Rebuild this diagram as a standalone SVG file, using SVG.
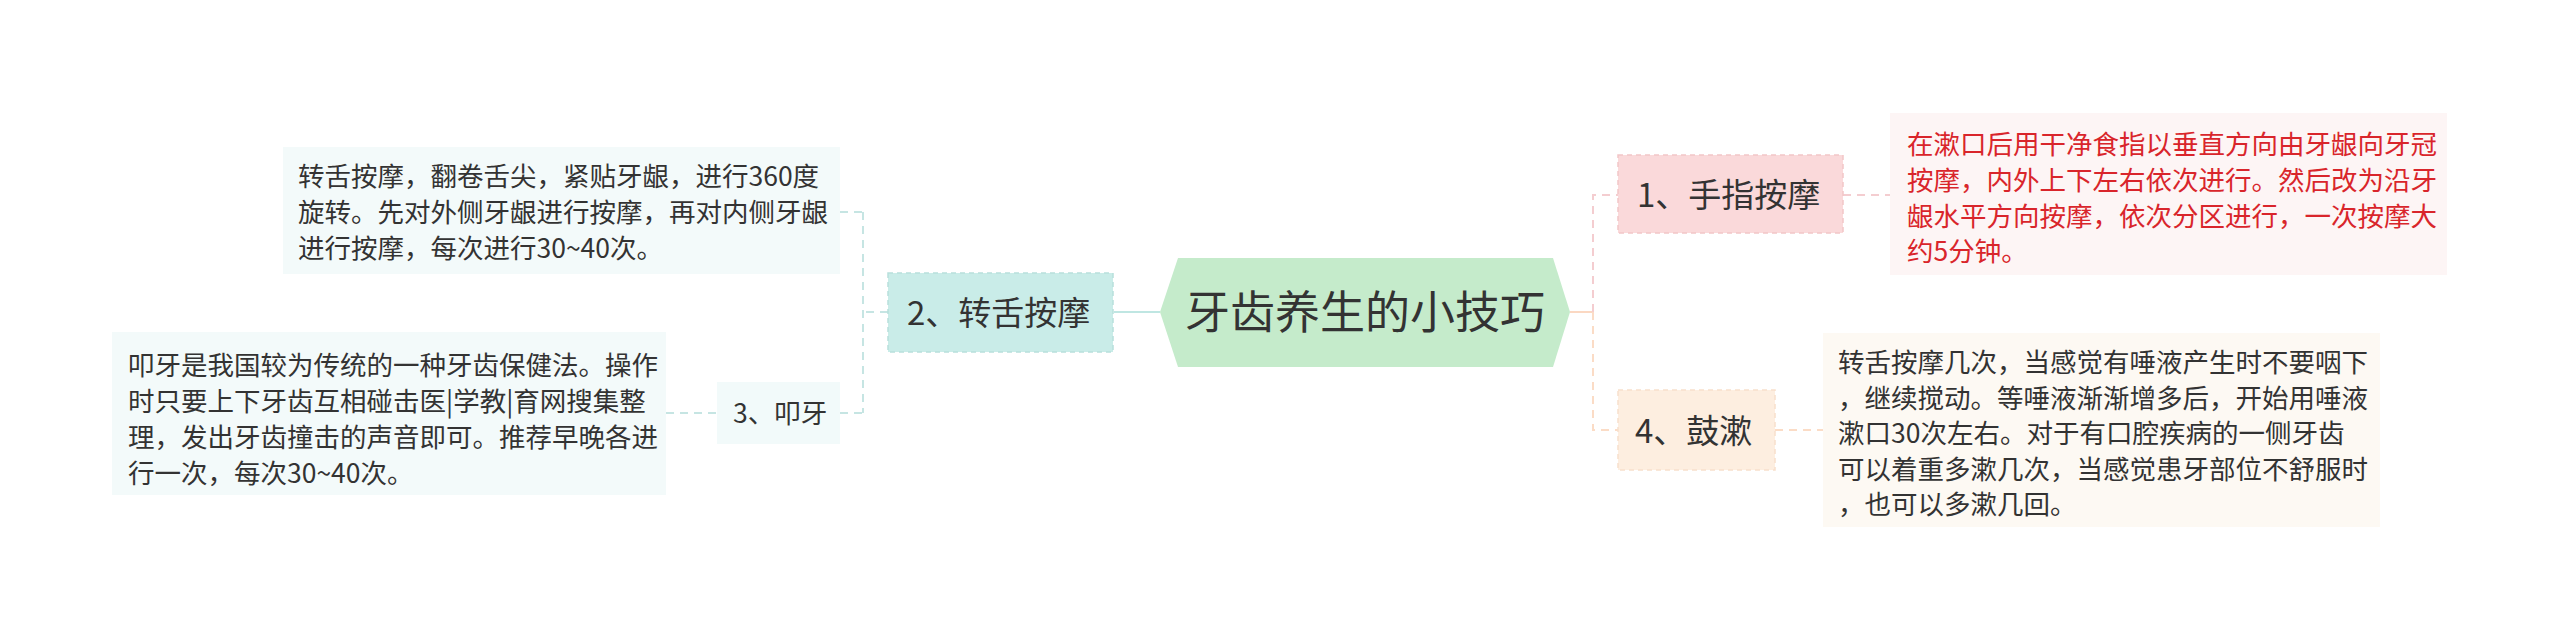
<svg xmlns="http://www.w3.org/2000/svg" width="2560" height="642" viewBox="0 0 2560 642">
<style>
text{font-family:"Noto Sans CJK SC","Liberation Sans",sans-serif;fill:#333}
.t{font-size:26.5px}
.n{font-size:33px}
.red{fill:#d9252b}
.dl{fill:none;stroke-width:2;stroke-dasharray:8,6}
.teal{stroke:#c6e5e3}
.pink{stroke:#f4cdd0}
.peach{stroke:#fbdcc6}
</style>
<rect width="2560" height="642" fill="#ffffff"/>
<g id="connectors">
  <line x1="1114" y1="312" x2="1160" y2="312" stroke="#bfe6e2" stroke-width="2"/>
  <path class="dl teal" d="M888 312 H863 M863 212 V413 M840 212 H863 M840 413 H863"/>
  <path class="dl teal" d="M666 413 H717"/>
  <line x1="1570" y1="312" x2="1593" y2="312" stroke="#fbd8c2" stroke-width="2"/>
  <path class="dl pink" d="M1593 312 V195 H1618"/>
  <path class="dl peach" d="M1593 312 V430 H1618"/>
  <path class="dl pink" d="M1843 195 H1890"/>
  <path class="dl peach" d="M1775 430 H1823"/>
</g>
<g id="root">
  <polygon points="1160,312 1178,258 1553,258 1570,312 1553,367 1178,367" fill="#c5ebcb"/>
  <text x="1365" y="329" font-size="45" text-anchor="middle">牙齿养生的小技巧</text>
</g>
<g id="node2">
  <rect x="888" y="273" width="225" height="79" fill="#c9ece8" stroke="#b8e0dc" stroke-width="1.5" stroke-dasharray="5,4"/>
  <text class="n" x="907" y="325">2、转舌按摩</text>
</g>
<g id="box2a">
  <rect x="283" y="147" width="557" height="127" fill="#f3fafa"/>
  <text class="t" x="298" y="186">转舌按摩，翻卷舌尖，紧贴牙龈，进行360度</text>
  <text class="t" x="298" y="222">旋转。先对外侧牙龈进行按摩，再对内侧牙龈</text>
  <text class="t" x="298" y="258">进行按摩，每次进行30~40次。</text>
</g>
<g id="node3">
  <rect x="717" y="382" width="123" height="62" fill="#f2fafa"/>
  <text class="t" x="733" y="423">3、叩牙</text>
</g>
<g id="box3">
  <rect x="112" y="332" width="554" height="163" fill="#f3fafa"/>
  <text class="t" x="128" y="375">叩牙是我国较为传统的一种牙齿保健法。操作</text>
  <text class="t" x="128" y="411">时只要上下牙齿互相碰击医|学教|育网搜集整</text>
  <text class="t" x="128" y="447">理，发出牙齿撞击的声音即可。推荐早晚各进</text>
  <text class="t" x="128" y="483">行一次，每次30~40次。</text>
</g>
<g id="node1">
  <rect x="1618" y="155" width="225" height="78" fill="#fad9da" stroke="#f2c6c8" stroke-width="1.5" stroke-dasharray="5,4"/>
  <text class="n" x="1637" y="207">1、手指按摩</text>
</g>
<g id="box1">
  <rect x="1890" y="113" width="557" height="162" fill="#fdf5f5"/>
  <text class="t red" x="1907" y="154">在漱口后用干净食指以垂直方向由牙龈向牙冠</text>
  <text class="t red" x="1907" y="190">按摩，内外上下左右依次进行。然后改为沿牙</text>
  <text class="t red" x="1907" y="226">龈水平方向按摩，依次分区进行，一次按摩大</text>
  <text class="t red" x="1907" y="261">约5分钟。</text>
</g>
<g id="node4">
  <rect x="1618" y="390" width="157" height="80" fill="#fdeee0" stroke="#f8e0cb" stroke-width="1.5" stroke-dasharray="5,4"/>
  <text class="n" x="1635" y="443">4、鼓漱</text>
</g>
<g id="box4">
  <rect x="1823" y="333" width="557" height="194" fill="#fdf9f3"/>
  <text class="t" x="1838" y="372">转舌按摩几次，当感觉有唾液产生时不要咽下</text>
  <text class="t" x="1838" y="408">，继续搅动。等唾液渐渐增多后，开始用唾液</text>
  <text class="t" x="1838" y="443">漱口30次左右。对于有口腔疾病的一侧牙齿</text>
  <text class="t" x="1838" y="479">可以着重多漱几次，当感觉患牙部位不舒服时</text>
  <text class="t" x="1838" y="514">，也可以多漱几回。</text>
</g>
</svg>
